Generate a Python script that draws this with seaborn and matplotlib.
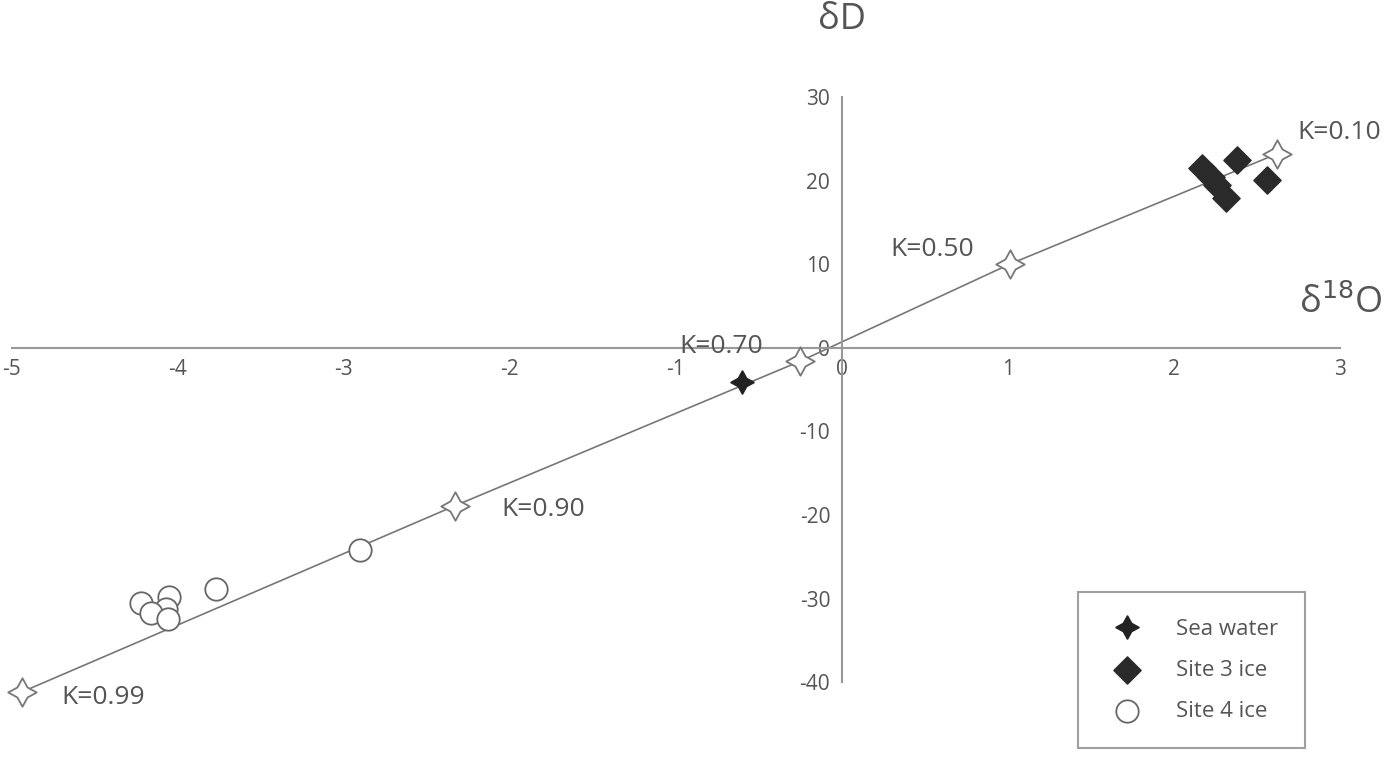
import pandas as pd
import matplotlib.pyplot as plt
import seaborn as sns

# Mixing line (K values)
k_labels = ['K=0.10', 'K=0.50', 'K=0.70', 'K=0.90', 'K=0.99']
k_o18 = [2.62, 1.01, -0.25, -2.33, -4.94]
k_dD = [23.2, 10.0, -1.6, -18.9, -41.2]

# Samples
sea_o18 = [-0.60]
sea_dD = [-4.1]
site3_o18 = [2.17, 2.38, 2.22, 2.26, 2.31, 2.56]
site3_dD = [21.5, 22.4, 20.4, 19.5, 17.9, 20.1]
site4_o18 = [-4.22, -4.05, -4.07, -4.16, -4.06, -3.77, -2.90]
site4_dD = [-30.5, -29.8, -31.3, -31.7, -32.5, -28.9, -24.2]

x_ticks = [-5, -4, -3, -2, -1, 0, 1, 2, 3]
y_ticks = [-40, -30, -20, -10, 0, 10, 20, 30]

df_k = pd.DataFrame({'o18': k_o18, 'dD': k_dD, 'label': k_labels})
df_s3 = pd.DataFrame({'o18': site3_o18, 'dD': site3_dD})
df_s4 = pd.DataFrame({'o18': site4_o18, 'dD': site4_dD})

sns.set_style('white')
plt.rcParams['font.family'] = ['Open Sans', 'DejaVu Sans']
plt.rcParams['axes.unicode_minus'] = False
grey = '#555555'

fig = plt.figure(figsize=(14, 7.59), dpi=100)
ax = fig.add_axes([0, 0, 1, 1])

sns.lineplot(x='o18', y='dD', data=df_k, sort=False, color='#777777', lw=1.2, ax=ax, legend=False)
sns.scatterplot(x='o18', y='dD', data=df_k, marker=(4, 1, 0), s=420, facecolor='white',
                edgecolor='#777777', linewidth=1.3, ax=ax, legend=False, zorder=3)
ax.plot(sea_o18, sea_dD, marker=(4, 1, 0), ms=17, color='#222222', ls='none', zorder=4,
        label='Sea water')
sns.scatterplot(x='o18', y='dD', data=df_s3, marker='D', s=190, color='#2a2a2a',
                edgecolor='#2a2a2a', ax=ax, label='Site 3 ice', zorder=4)
sns.scatterplot(x='o18', y='dD', data=df_s4, marker='o', s=260, facecolor='white',
                edgecolor='#666666', linewidth=1.3, ax=ax, label='Site 4 ice', zorder=4)

# K labels
offsets = {'K=0.10': (0.12, 2.5), 'K=0.50': (-0.72, 1.8),
           'K=0.70': (-0.73, 1.8), 'K=0.90': (0.28, -0.5),
           'K=0.99': (0.24, -0.6)}
for lab, x, y in zip(k_labels, k_o18, k_dD):
    dx, dy = offsets[lab]
    ax.text(x + dx, y + dy, lab, fontsize=19, color=grey, ha='left', va='center')

# axes through origin
ax.set_xlim(-5.07, 3.36)
ax.set_ylim(-49.2, 41.6)
ax.spines['left'].set_position(('data', 0))
ax.spines['bottom'].set_position(('data', 0))
ax.spines['right'].set_visible(False)
ax.spines['top'].set_visible(False)
for s in ['left', 'bottom']:
    ax.spines[s].set_color('#999999')
    ax.spines[s].set_linewidth(1.5)
ax.spines['bottom'].set_bounds(-5, 3)
ax.spines['left'].set_bounds(-40, 30)
ax.set_xticks(x_ticks)
ax.set_yticks(y_ticks)
ax.tick_params(axis='both', direction='out', length=5, color='#999999', labelsize=15,
               labelcolor=grey)
ax.tick_params(axis='x', pad=3)
ax.set_xlabel('')
ax.set_ylabel('')

ax.text(0, 39.2, 'δD', fontsize=26, color=grey, ha='center', va='center')
ax.text(3.0, 5.2, 'δ$^{18}$O', fontsize=26, color=grey, ha='center', va='center')

leg = ax.legend(loc='upper left', bbox_to_anchor=(1078 / 1400, 1 - 592 / 759), frameon=True,
                fancybox=False, edgecolor='#888888', fontsize=16, labelcolor=grey,
                borderpad=1.2, labelspacing=0.9, handletextpad=1.2, borderaxespad=0)
leg.get_frame().set_linewidth(1.5)

fig.savefig('out.png', dpi=100)
